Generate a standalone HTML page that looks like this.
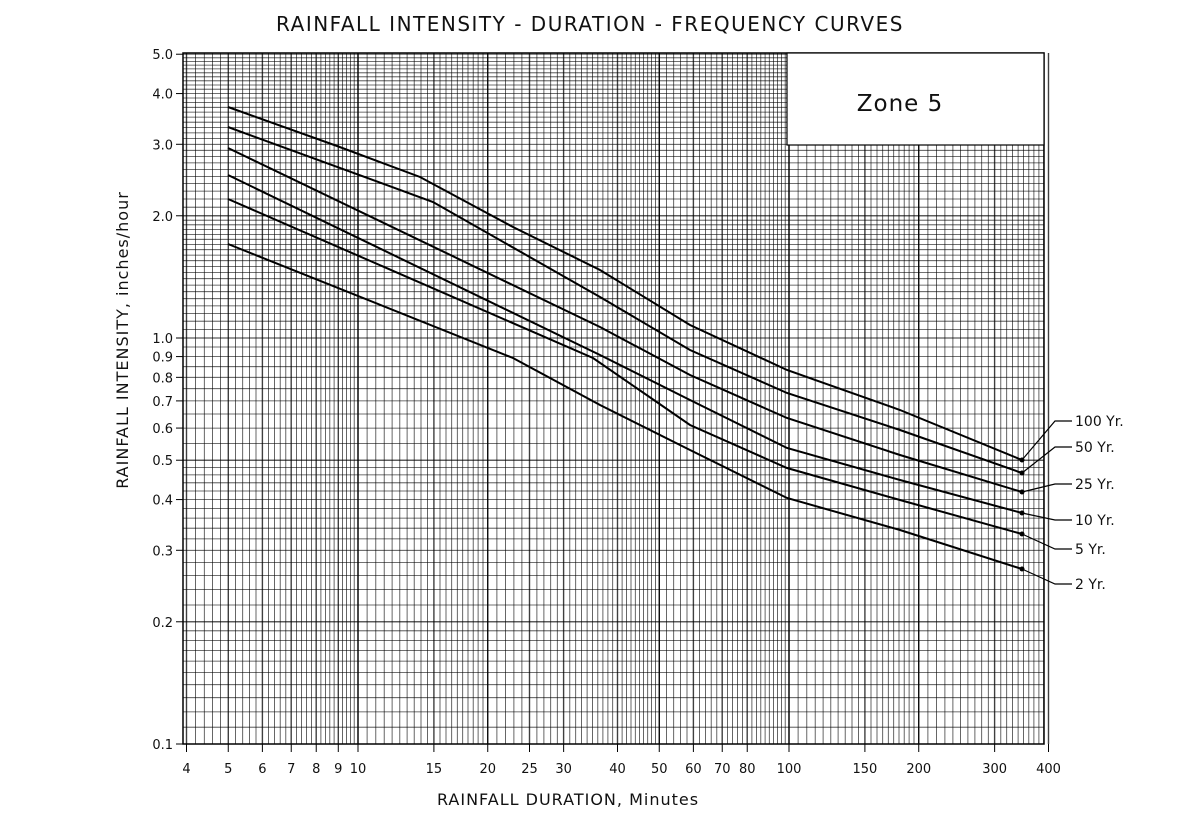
<!DOCTYPE html>
<html><head><meta charset="utf-8"><style>
body{margin:0;background:#fff}
svg text{font-family:"DejaVu Sans","Liberation Sans",sans-serif;fill:#111}
</style></head><body>
<svg id="s" width="1194" height="815" xmlns="http://www.w3.org/2000/svg"></svg>
<script>
var s=document.getElementById('s'),h='';
function X(v){return 358+431*Math.log10(v/10);}
function Y(v){return 744-406*Math.log10(v/0.1);}
var L=183,R=1044,T=53,B=744;
// vertical grid
var vx=[];
function addR(a,b,st){for(var v=a;v<=b+1e-9;v+=st)vx.push(+v.toFixed(3));}
addR(4,10,0.2);addR(10,20,0.5);addR(20,50,1);addR(50,100,2);addR(100,200,5);addR(200,400,10);
vx.forEach(function(v){var x=X(v);h+='<line x1="'+x.toFixed(1)+'" y1="'+T+'" x2="'+x.toFixed(1)+'" y2="'+B+'" stroke="#000" stroke-width="'+(Math.abs(v-Math.round(v))<1e-6&&[4,5,6,7,8,9,10,15,20,25,30,40,50,60,70,80,100,150,200,300,400].indexOf(v)>=0?1.4:0.8)+'" opacity="0.75"/>';});
// horizontal grid
var hy=[];
function addH(a,b,st){for(var v=a;v<=b+1e-9;v+=st)hy.push(+v.toFixed(4));}
addH(0.1,0.2,0.01);addH(0.2,0.5,0.02);addH(0.5,1,0.05);addH(1,2,0.05);addH(2,5,0.1);
hy.forEach(function(v){var y=Y(v);if(y<T-1)return;h+='<line x1="'+L+'" y1="'+y.toFixed(1)+'" x2="'+R+'" y2="'+y.toFixed(1)+'" stroke="#000" stroke-width="0.8" opacity="0.75"/>';});
h+='<rect x="'+L+'" y="'+T+'" width="'+(R-L)+'" height="'+(B-T)+'" fill="none" stroke="#000" stroke-width="1.5"/>';
// zone box
h+='<rect x="787" y="'+T+'" width="'+(R-787)+'" height="92" fill="#fff" stroke="#000" stroke-width="1.2"/>';
h+='<text x="900" y="111" font-size="23" text-anchor="middle" letter-spacing="1">Zone 5</text>';
// curves
var C=[
[[228,107],[337,146],[420,177],[513,227],[600,270],[690,325],[787,370],[900,410],[1022,460]],
[[228,127],[433,202],[600,297],[690,350],[787,393],[900,430],[1022,473]],
[[228,148],[600,327],[690,375],[787,418],[900,455],[1022,492]],
[[228,175],[600,355],[690,400],[787,448],[900,480],[1022,513]],
[[228,199],[593,358],[690,425],[787,468],[900,500],[1022,534]],
[[228,244],[513,358],[600,405],[690,450],[787,498],[900,530],[1022,569]]];
C.forEach(function(c){h+='<polyline points="'+c.map(function(p){return p.join(',')}).join(' ')+'" fill="none" stroke="#000" stroke-width="2"/>';var e=c[c.length-1];h+='<circle cx="'+e[0]+'" cy="'+e[1]+'" r="2.5" fill="#000"/>';});
// leaders and labels
var lab=[["100 Yr.",421,460],["50 Yr.",447,473],["25 Yr.",484,492],["10 Yr.",520,513],["5 Yr.",549,534],["2 Yr.",584,569]];
lab.forEach(function(l){h+='<polyline points="1022,'+l[2]+' 1055,'+l[1]+' 1072,'+l[1]+'" fill="none" stroke="#000" stroke-width="1.2"/>';h+='<text x="1075" y="'+(l[1]+5)+'" font-size="14">'+l[0]+'</text>';});
// y ticks
[[5,"5.0"],[4,"4.0"],[3,"3.0"],[2,"2.0"],[1,"1.0"],[0.9,"0.9"],[0.8,"0.8"],[0.7,"0.7"],[0.6,"0.6"],[0.5,"0.5"],[0.4,"0.4"],[0.3,"0.3"],[0.2,"0.2"],[0.1,"0.1"]].forEach(function(t){var y=Y(t[0]);h+='<line x1="'+(L-7)+'" y1="'+y+'" x2="'+L+'" y2="'+y+'" stroke="#000"/>';h+='<text x="'+(L-10)+'" y="'+(y+5)+'" font-size="13" text-anchor="end">'+t[1]+'</text>';});
// x ticks
[4,5,6,7,8,9,10,15,20,25,30,40,50,60,70,80,100,150,200,300,400].forEach(function(v){var x=X(v);h+='<line x1="'+x+'" y1="'+B+'" x2="'+x+'" y2="'+(B+8)+'" stroke="#000"/>';h+='<text x="'+x+'" y="'+773+'" font-size="13" text-anchor="middle">'+v+'</text>';});
h+='<text x="590" y="31" font-size="20" text-anchor="middle" letter-spacing="1.5">RAINFALL INTENSITY - DURATION - FREQUENCY CURVES</text>';
h+='<text x="568" y="805" font-size="16" text-anchor="middle" letter-spacing="1">RAINFALL DURATION, Minutes</text>';
h+='<text transform="translate(128,340) rotate(-90)" font-size="16" text-anchor="middle" letter-spacing="1">RAINFALL INTENSITY, inches/hour</text>';
s.innerHTML=h;
</script>
</body></html>
